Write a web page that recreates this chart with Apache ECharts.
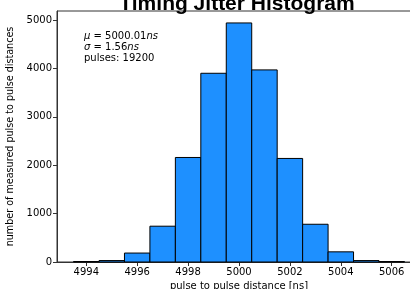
<!DOCTYPE html>
<html>
<head>
<meta charset="utf-8">
<script src="https://cdn.jsdelivr.net/npm/echarts@6/dist/echarts.min.js"></script>
<style>
  html, body { margin: 0; padding: 0; background: #fff; }
  #chart { width: 410px; height: 289px; }
</style>
</head>
<body>
<div id="chart"></div>
<script>
// histogram bins: centre of each 1 ns bin and its count
const binCenters = [4994, 4995, 4996, 4997, 4998, 4999, 5000, 5001, 5002, 5003, 5004, 5005, 5006]
const binCounts = [10, 30, 185, 740, 2160, 3900, 4940, 3970, 2140, 780, 210, 30, 10]
const binWidth = 1
const xTicks = [4994, 4996, 4998, 5000, 5002, 5004, 5006]
const yTicks = [0, 1000, 2000, 3000, 4000, 5000]

const font = 'DejaVu Sans'
const myChart = echarts.init(document.getElementById('chart'), null, { renderer: 'canvas' })

const option = {
  animation: false,
  title: {
    text: 'Timing Jitter Histogram',
    left: 232,
    textAlign: 'center',
    top: -11,
    textStyle: { fontFamily: 'Liberation Sans', fontWeight: 'bold', fontSize: 21, color: '#000' }
  },
  grid: {
    left: 57, top: 11, right: -11, bottom: 27,
    outerBoundsMode: 'none',
    containLabel: false,
    show: true, borderColor: '#333', borderWidth: 1, backgroundColor: 'transparent'
  },
  xAxis: {
    type: 'value',
    min: 4992.85,
    max: 5007.15,
    name: 'pulse to pulse distance [ns]',
    nameLocation: 'middle',
    nameGap: 17,
    nameTextStyle: { fontFamily: font, fontSize: 10, color: '#000' },
    axisLine: { show: true, onZero: false, lineStyle: { color: '#333' } },
    axisTick: { show: true, length: 4, customValues: xTicks, lineStyle: { color: '#333' } },
    axisLabel: { customValues: xTicks, formatter: v => String(v), fontFamily: font, fontSize: 10, color: '#000', margin: 5 },
    splitLine: { show: false }
  },
  yAxis: {
    type: 'value',
    min: 0,
    max: 5187,
    name: 'number of measured pulse to pulse distances',
    nameLocation: 'middle',
    nameGap: 39,
    nameTextStyle: { fontFamily: font, fontSize: 9.6, color: '#000' },
    axisLine: { show: true, lineStyle: { color: '#333' } },
    axisTick: { show: true, length: 4, customValues: yTicks, lineStyle: { color: '#333' } },
    axisLabel: { customValues: yTicks, formatter: v => String(v), fontFamily: font, fontSize: 10, color: '#000', margin: 5 },
    splitLine: { show: false }
  },
  graphic: [{
    type: 'text',
    left: 84,
    top: 31,
    style: {
      text: '{i|μ} = 5000.01{i|ns}\n{i|σ} = 1.56{i|ns}\npulses: 19200',
      fontFamily: font,
      fontSize: 10,
      lineHeight: 11,
      fill: '#000',
      rich: {
        i: { fontFamily: font, fontStyle: 'italic', fontSize: 10 }
      }
    }
  }],
  series: [{
    type: 'custom',
    data: binCenters.map((c, i) => [c, binCounts[i]]),
    renderItem: (params, api) => {
      const x = api.value(0)
      const p0 = api.coord([x - binWidth / 2, api.value(1)])
      const p1 = api.coord([x + binWidth / 2, 0])
      return {
        type: 'rect',
        shape: { x: p0[0], y: p0[1], width: p1[0] - p0[0], height: p1[1] - p0[1] },
        style: { fill: '#1e90ff', stroke: '#000', lineWidth: 1 }
      }
    }
  }]
}

myChart.setOption(option)
</script>
</body>
</html>
